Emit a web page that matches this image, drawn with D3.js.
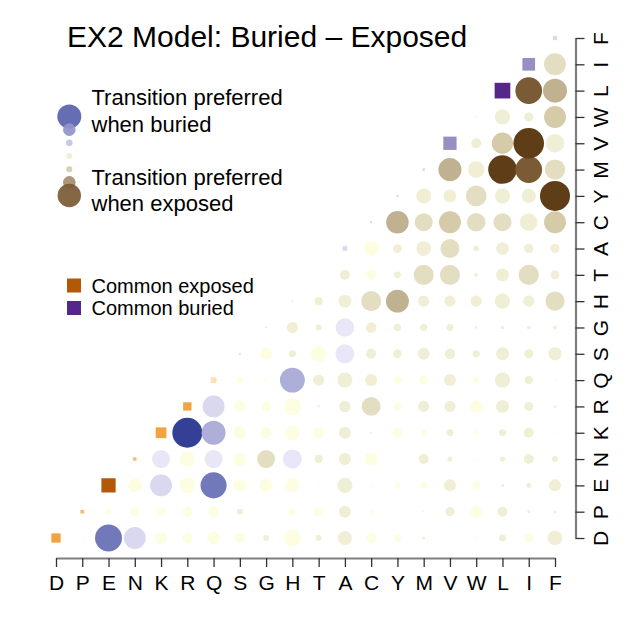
<!DOCTYPE html>
<html>
<head>
<meta charset="utf-8">
<script src="https://cdn.jsdelivr.net/npm/d3@7"></script>
<style>
  body { margin: 0; background: #fff; }
  svg { display: block; font-family: "Liberation Sans", Arial, sans-serif; }
</style>
</head>
<body>
<div id="grafico"></div>
<script>
// amino acids, same order on both axes
const aminoacidos = ["D","P","E","N","K","R","Q","S","G","H","T","A","C","Y","M","V","W","L","I","F"];

// off-diagonal cells: each row lists the columns to the right of the diagonal
// magnitude 0..1, tone -5 (buried) .. 6 (exposed)
const magnitude = [
  [0, .90, .73, .40, .35, .42, .35, .20, .57, .20, .47, .35, .23, .10, .03, .10, .23, .31, .49], // D
  [.20, .30, .30, .33, .37, .20, .07, .23, .32, .40, .13, 0, .05, .31, .40, .33, .10, .10],      // P
  [.47, .73, .53, .87, .43, .43, .47, .07, .51, .11, .20, .23, .40, .27, .10, .17, .40],         // E
  [.60, .50, .60, .43, .60, .63, .28, .40, .43, 0, .33, .17, .10, .17, .33, .20],                // N
  [1.0, .80, .43, .37, .50, .37, .40, .07, .33, .20, .23, .13, .23, .33, .07],                   // K
  [.73, .39, .33, .57, .07, .38, .63, .27, .37, .37, .43, .43, .30, .10],                        // R
  [.20, .10, .83, .37, .50, .40, .28, .28, .40, .21, .51, .28, .07],                             // Q
  [.40, .23, .53, .63, .33, .29, .40, .35, .24, .43, .31, .44],                                  // S
  [.37, .20, .62, .35, .24, .24, .23, .08, .11, .12, .13],                                       // G
  [.27, .43, .67, .76, .37, .37, .37, .51, .37, .64],                                            // H
  [.33, .35, .23, .67, .67, .13, .43, .68, .30],                                                 // T
  [.49, .29, .49, .63, .18, .42, .31, .31],                                                      // A
  [.75, .60, .73, .62, .60, .58, .73],                                                           // C
  [.50, .43, .69, .50, .47, 1.0],                                                                // Y
  [.77, .55, .95, .89, .68],                                                                     // M
  [.33, .71, 1.02, .62],                                                                         // V
  [.51, .31, .73],                                                                               // W
  [.89, .80],                                                                                    // L
  [.73],                                                                                         // I
  []                                                                                             // F
];
const tom = [
  [0, -4, -2, 0, 0, 0, 0, 1, 0, 1, 1, 0, 0, 1, 1, 0, 1, 0, 1],
  [0, 0, 0, 0, 0, 1, 0, 0, 0, 1, 0, 0, 1, 1, 0, 1, 1, 1],
  [0, -2, 0, -4, 0, 0, 0, 0, 1, 0, 0, 0, 1, 0, 1, 1, 1],
  [-1, 0, -1, 0, 2, -1, 1, 1, 0, 0, 1, 1, 0, 1, 1, 1],
  [-5, -3, 0, 0, 0, 0, 1, 1, 0, 0, 1, 0, 1, 1, 0],
  [-2, 0, 0, 0, 1, 1, 2, 0, 1, 1, 0, 1, 1, 1],
  [0, 0, -3, 1, 1, 1, 0, 0, 1, 0, 1, 1, 0],
  [0, 1, 0, -1, 1, 1, 1, 1, 1, 1, 1, 1],
  [1, 1, -1, 1, 1, 1, 1, 1, 1, 1, 1],
  [1, 1, 2, 4, 1, 1, 1, 1, 1, 2],
  [1, 0, 1, 2, 2, 1, 1, 2, 1],
  [0, 1, 1, 2, 1, 1, 1, 1],
  [4, 2, 3, 2, 2, 1, 3],
  [1, 1, 2, 1, 1, 6],
  [4, 1, 6, 5, 2],
  [1, 3, 6, 1],
  [1, 1, 3],
  [5, 4],
  [2],
  []
];

// diagonal: how common the residue is, -3 exposed .. 3 buried
const diag_magnitude = [.58, .23, .89, .21, .67, .52, .36, .13, .09, .09, 0, .29, .13, .13, .16, .83, .06, .98, .79, .27];
const diag_tom = [-2, -1.6, -3, -1.6, -2, -2, -1, -1, -1, -1, 0, 1, 1, 1, 1, 2, 1, 3, 2, 1];

// legend samples
const legenda_tom = [-4.4, -3.5, -2.5, 1, 3, 4.4, 5];
const legenda_magnitude = [.80, .42, .22, .20, .20, .42, .78];
const legenda_textos = ["Transition preferred", "when buried", "Transition preferred", "when exposed"];
const legenda_comum = [{ t: "Common exposed", v: -3 }, { t: "Common buried", v: 3 }];

const titulo = "EX2 Model: Buried \u2013 Exposed";

// ---------------------------------------------------------------------------
const largura = 630, altura = 630;
const fonte = '"Liberation Sans", Arial, sans-serif';

const x = d3.scalePoint(aminoacidos, [56, 555]);
const y = d3.scalePoint(aminoacidos, [538, 38]);
const raio = d3.scaleLinear([0, 1], [0, 15]);
const lado = d3.scaleLinear([0, 1], [0, 16]);

const cor_circulo = d3.scaleLinear()
  .domain([-5, -4, -3, -2, -1, 0, 1, 2, 3, 4, 5, 6])
  .range(["#334096", "#7279bb", "#adafd8", "#d9d8ee", "#e8e6f7", "#fdfde2",
          "#f0eed5", "#e3dec2", "#d5cba8", "#c0b290", "#7a5b35", "#5e3d17"])
  .clamp(true);
const cor_quadrado = d3.scaleLinear()
  .domain([-3, -2, -1, 0, 1, 2, 3])
  .range(["#b35806", "#f1a340", "#fee0b6", "#f7f7f7", "#d8daeb", "#998ec3", "#542788"]);

// cells table
const celulas = [];
aminoacidos.forEach((linha, j) => {
  magnitude[j].forEach((m, k) => {
    celulas.push({ coluna: aminoacidos[j + 1 + k], linha, m, t: tom[j][k] });
  });
});

const svg = d3.select("#grafico").append("svg")
  .attr("width", largura)
  .attr("height", altura)
  .attr("viewBox", [0, 0, largura, altura]);

// title
svg.append("text")
  .attr("x", 67).attr("y", 46.5)
  .attr("font-size", 30)
  .attr("fill", "#000")
  .text(titulo);

// circles
svg.append("g").attr("class", "circulos")
  .selectAll("circle")
  .data(celulas.filter(d => d.m > 0))
  .join("circle")
    .attr("cx", d => x(d.coluna))
    .attr("cy", d => y(d.linha))
    .attr("r", d => raio(d.m))
    .attr("fill", d => cor_circulo(d.t));

// diagonal squares
svg.append("g").attr("class", "quadrados")
  .selectAll("rect")
  .data(aminoacidos.map((a, i) => ({ a, m: diag_magnitude[i], t: diag_tom[i] })).filter(d => d.m > 0))
  .join("rect")
    .attr("x", d => x(d.a) - lado(d.m) / 2)
    .attr("y", d => y(d.a) - lado(d.m) / 2)
    .attr("width", d => lado(d.m))
    .attr("height", d => lado(d.m))
    .attr("fill", d => cor_quadrado(d.t));

// x axis
svg.append("g")
  .attr("class", "eixo_x")
  .attr("transform", "translate(0,558)")
  .call(d3.axisBottom(x).tickSize(9).tickSizeOuter(0).tickPadding(8))
  .call(g => g.select(".domain").attr("stroke", "#7f7f7f").attr("stroke-width", 2.2))
  .call(g => g.selectAll(".tick line").attr("stroke", "#333").attr("stroke-width", 1.3))
  .call(g => g.selectAll(".tick text")
    .attr("font-size", 21).attr("font-family", fonte).attr("fill", "#000"));

// right axis, labels turned
svg.append("g")
  .attr("class", "eixo_y")
  .attr("transform", "translate(575.5,0)")
  .call(d3.axisRight(y).tickSize(9).tickSizeOuter(0))
  .call(g => g.select(".domain").attr("stroke", "#7f7f7f").attr("stroke-width", 2.2))
  .call(g => g.selectAll(".tick line").attr("stroke", "#333").attr("stroke-width", 1.3))
  .call(g => g.selectAll(".tick text")
    .attr("x", null).attr("dy", null)
    .attr("transform", "translate(32.5,0) rotate(-90)")
    .attr("text-anchor", "middle")
    .attr("font-size", 21).attr("font-family", fonte).attr("fill", "#000"));

// legend: circles
const ly = d3.scalePoint(d3.range(legenda_tom.length), [116.5, 195.5]);
svg.append("g").attr("class", "legenda_circulos")
  .selectAll("circle")
  .data(legenda_tom)
  .join("circle")
    .attr("cx", 69.3)
    .attr("cy", (d, i) => ly(i))
    .attr("r", (d, i) => raio(legenda_magnitude[i]))
    .attr("fill", d => cor_circulo(d))
    .attr("fill-opacity", 0.92);

svg.append("g").attr("class", "legenda_textos")
  .attr("font-size", 22)
  .selectAll("text")
  .data(legenda_textos)
  .join("text")
    .attr("x", 91.5)
    .attr("y", (d, i) => [104.8, 131.5, 184.8, 211.2][i])
    .text(d => d);

// legend: squares
const lc = svg.append("g").attr("class", "legenda_comum")
  .selectAll("g")
  .data(legenda_comum)
  .join("g")
    .attr("transform", (d, i) => `translate(0,${292.5 + i * 22.5})`);
lc.append("rect")
  .attr("x", 67).attr("y", -14).attr("width", 14).attr("height", 14)
  .attr("fill", d => cor_quadrado(d.v));
lc.append("text")
  .attr("x", 91.5).attr("y", 0)
  .attr("font-size", 20)
  .text(d => d.t);
</script>
</body>
</html>
